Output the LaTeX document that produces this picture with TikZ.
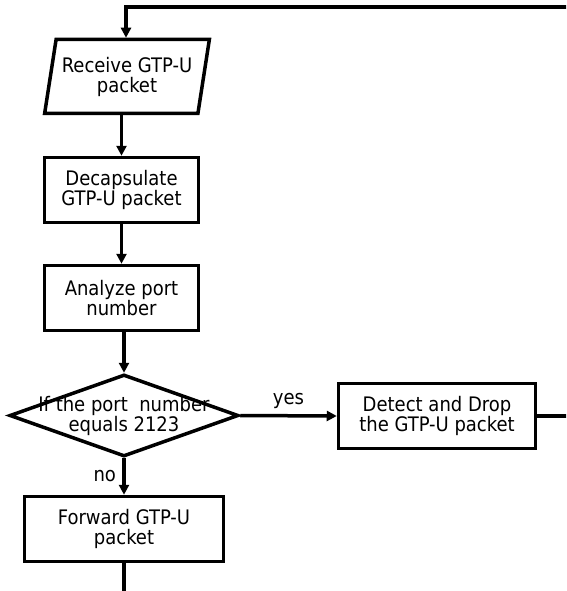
\documentclass[tikz,border=0pt]{standalone}
\usepackage{fontspec}
\setmainfont{DejaVu Sans Condensed}
\usetikzlibrary{shapes.geometric,arrows.meta}

\begin{document}
\begin{tikzpicture}[x=1pt,y=-1pt,line width=3.5pt,
  txt/.style={font=\fontsize{20}{20}\selectfont,align=center},
  box/.style={draw,rectangle,txt,inner sep=0pt},
  arr/.style={-{Triangle[length=10pt,width=10pt]}}]
\useasboundingbox (0,0) rectangle (566,591);
\clip (0,0) rectangle (566,591);

\node[draw,trapezium,trapezium left angle=75,trapezium right angle=105,trapezium stretches=true,minimum width=165,minimum height=74,txt,inner sep=0pt](recv) at (127,76.5) {Receive GTP-U\\packet};
\node[box,minimum width=154,minimum height=65](decap) at (121.5,190) {Decapsulate\\GTP-U packet};
\node[box,minimum width=154,minimum height=65](analyze) at (121.5,298) {Analyze port\\number};
\node[draw,diamond,minimum width=229,minimum height=82,inner sep=0pt,
  label={[txt]center:If the port~~number\\equals 2123}](check) at (124,415.5) {};
\node[box,minimum width=197,minimum height=65](drop) at (437,416) {Detect and Drop\\the GTP-U packet};
\node[box,minimum width=199,minimum height=65](fwd) at (124,529) {Forward GTP-U\\packet};
\coordinate (loop) at (126,7);
\coordinate (out) at (124,600);

\draw[arr] (decap.north |- recv.south) -- (decap.north);
\draw[arr] (decap.south) -- (analyze.north);
\draw[arr] (analyze.south -| check.north) -- (check.north);
\draw[arr] (check.east) -- node[txt,above=2pt]{yes} (drop.west);
\draw[arr] (check.south) -- node[txt,left=3pt]{no} (fwd.north);
\draw (fwd.south) -- (out);
\draw[arr] (drop.east) -- (600,416) |- (loop) -- (loop |- recv.north);
\end{tikzpicture}
\end{document}
